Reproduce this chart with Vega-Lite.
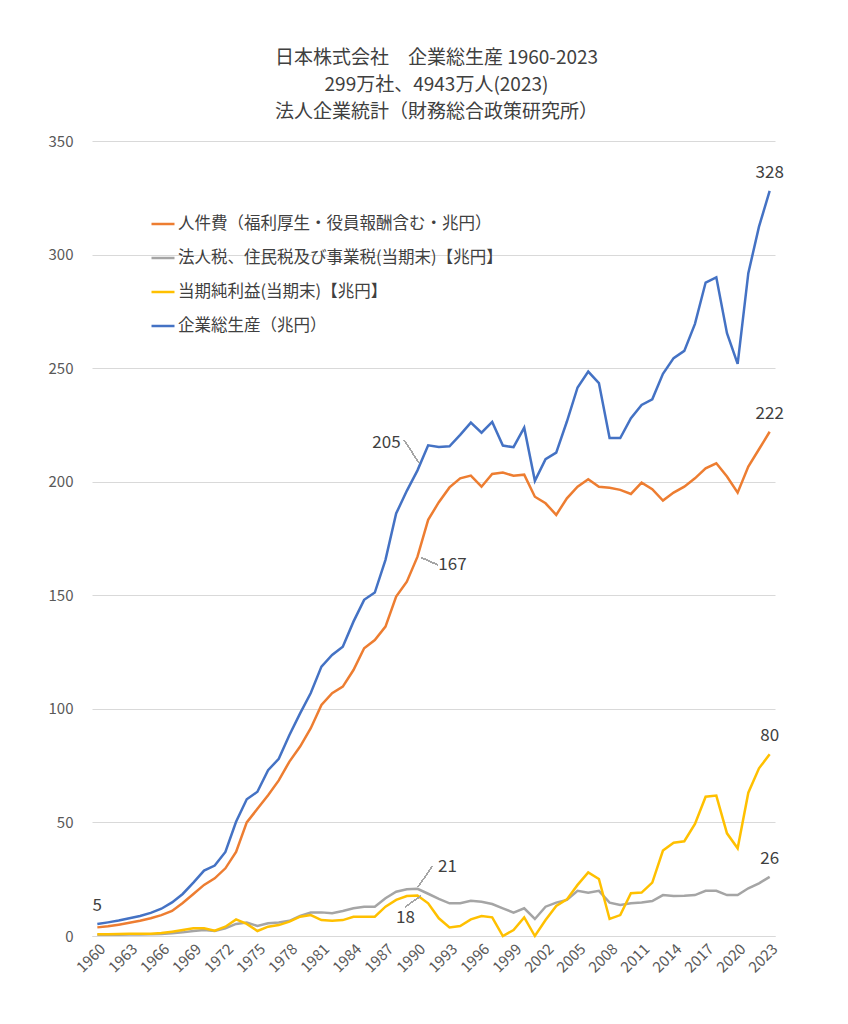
{
  "$schema": "https://vega.github.io/schema/vega-lite/v6.json",
  "autosize": {"type": "none"},
  "width": 683,
  "height": 795,
  "padding": {"left": 92, "top": 141, "right": 73, "bottom": 88},
  "background": "white",
  "title": {
    "text": ["日本株式会社　企業総生産 1960-2023", "299万社、4943万人(2023)", "法人企業統計（財務総合政策研究所）"],
    "font": "Noto Sans CJK JP",
    "fontSize": 19,
    "fontWeight": "normal",
    "color": "#404040",
    "anchor": "middle",
    "lineHeight": 27,
    "offset": 12,
    "dx": 3
  },
  "config": {
    "font": "Noto Sans CJK JP",
    "view": {"stroke": null}
  },
  "data": {
    "values": [
      {"year": 1960, "labor": 3.8, "tax": 0.5, "profit": 0.8, "output": 5.3},
      {"year": 1961, "labor": 4.3, "tax": 0.6, "profit": 0.8, "output": 6.0},
      {"year": 1962, "labor": 5.0, "tax": 0.6, "profit": 0.9, "output": 6.8},
      {"year": 1963, "labor": 5.8, "tax": 0.7, "profit": 1.0, "output": 7.8},
      {"year": 1964, "labor": 6.7, "tax": 0.7, "profit": 1.0, "output": 8.8},
      {"year": 1965, "labor": 7.8, "tax": 0.8, "profit": 1.0, "output": 10.2},
      {"year": 1966, "labor": 9.2, "tax": 0.9, "profit": 1.3, "output": 12.0},
      {"year": 1967, "labor": 11.0, "tax": 1.2, "profit": 1.9, "output": 14.8},
      {"year": 1968, "labor": 14.5, "tax": 1.6, "profit": 2.6, "output": 18.5},
      {"year": 1969, "labor": 18.5, "tax": 2.2, "profit": 3.4, "output": 23.5},
      {"year": 1970, "labor": 22.5, "tax": 2.6, "profit": 3.4, "output": 28.8},
      {"year": 1971, "labor": 25.4, "tax": 2.2, "profit": 2.3, "output": 31.0},
      {"year": 1972, "labor": 29.8, "tax": 3.4, "profit": 4.1, "output": 37.0},
      {"year": 1973, "labor": 37.0, "tax": 5.3, "profit": 7.3, "output": 50.3},
      {"year": 1974, "labor": 50.0, "tax": 5.9, "profit": 5.3, "output": 60.2},
      {"year": 1975, "labor": 56.0, "tax": 4.4, "profit": 2.2, "output": 63.5},
      {"year": 1976, "labor": 62.0, "tax": 5.6, "profit": 4.1, "output": 73.0},
      {"year": 1977, "labor": 68.5, "tax": 5.9, "profit": 4.8, "output": 78.0},
      {"year": 1978, "labor": 76.8, "tax": 6.7, "profit": 6.3, "output": 88.5},
      {"year": 1979, "labor": 83.4, "tax": 8.8, "profit": 8.5, "output": 98.0},
      {"year": 1980, "labor": 91.5, "tax": 10.3, "profit": 9.2, "output": 107.0},
      {"year": 1981, "labor": 101.7, "tax": 10.4, "profit": 7.0, "output": 118.6},
      {"year": 1982, "labor": 106.9, "tax": 10.0, "profit": 6.7, "output": 123.7},
      {"year": 1983, "labor": 109.8, "tax": 11.0, "profit": 7.0, "output": 127.4},
      {"year": 1984, "labor": 117.1, "tax": 12.2, "profit": 8.5, "output": 138.4},
      {"year": 1985, "labor": 126.7, "tax": 12.9, "profit": 8.5, "output": 148.0},
      {"year": 1986, "labor": 130.3, "tax": 12.9, "profit": 8.5, "output": 151.2},
      {"year": 1987, "labor": 136.2, "tax": 16.6, "profit": 12.9, "output": 165.6},
      {"year": 1988, "labor": 149.4, "tax": 19.5, "profit": 15.9, "output": 186.0},
      {"year": 1989, "labor": 156.0, "tax": 20.6, "profit": 17.6, "output": 196.0},
      {"year": 1990, "labor": 167.0, "tax": 20.8, "profit": 17.8, "output": 205.0},
      {"year": 1991, "labor": 183.2, "tax": 18.6, "profit": 14.4, "output": 216.0},
      {"year": 1992, "labor": 191.0, "tax": 16.3, "profit": 7.8, "output": 215.3},
      {"year": 1993, "labor": 197.5, "tax": 14.4, "profit": 3.8, "output": 215.6},
      {"year": 1994, "labor": 201.5, "tax": 14.4, "profit": 4.4, "output": 220.6},
      {"year": 1995, "labor": 202.7, "tax": 15.5, "profit": 7.3, "output": 226.0},
      {"year": 1996, "labor": 197.8, "tax": 15.1, "profit": 8.8, "output": 221.6},
      {"year": 1997, "labor": 203.4, "tax": 14.1, "profit": 8.2, "output": 226.3},
      {"year": 1998, "labor": 204.0, "tax": 12.2, "profit": 0.0, "output": 215.9},
      {"year": 1999, "labor": 202.6, "tax": 10.3, "profit": 2.6, "output": 215.2},
      {"year": 2000, "labor": 203.1, "tax": 12.2, "profit": 8.2, "output": 223.8},
      {"year": 2001, "labor": 193.4, "tax": 7.5, "profit": 0.0, "output": 200.4},
      {"year": 2002, "labor": 190.5, "tax": 12.9, "profit": 7.0, "output": 209.9},
      {"year": 2003, "labor": 185.4, "tax": 14.7, "profit": 13.2, "output": 212.8},
      {"year": 2004, "labor": 192.7, "tax": 15.9, "profit": 16.1, "output": 226.5},
      {"year": 2005, "labor": 197.8, "tax": 19.9, "profit": 22.5, "output": 241.5},
      {"year": 2006, "labor": 201.1, "tax": 19.1, "profit": 28.0, "output": 248.5},
      {"year": 2007, "labor": 197.8, "tax": 19.9, "profit": 25.1, "output": 243.4},
      {"year": 2008, "labor": 197.3, "tax": 14.7, "profit": 7.5, "output": 219.2},
      {"year": 2009, "labor": 196.4, "tax": 13.7, "profit": 9.2, "output": 219.2},
      {"year": 2010, "labor": 194.6, "tax": 14.4, "profit": 18.8, "output": 228.0},
      {"year": 2011, "labor": 199.6, "tax": 14.8, "profit": 19.1, "output": 233.8},
      {"year": 2012, "labor": 196.7, "tax": 15.4, "profit": 23.5, "output": 236.3},
      {"year": 2013, "labor": 191.7, "tax": 18.0, "profit": 37.6, "output": 247.5},
      {"year": 2014, "labor": 195.2, "tax": 17.6, "profit": 41.1, "output": 254.4},
      {"year": 2015, "labor": 197.8, "tax": 17.7, "profit": 41.7, "output": 257.6},
      {"year": 2016, "labor": 201.5, "tax": 18.0, "profit": 49.3, "output": 269.5},
      {"year": 2017, "labor": 205.9, "tax": 19.9, "profit": 61.3, "output": 287.7},
      {"year": 2018, "labor": 208.1, "tax": 19.9, "profit": 61.8, "output": 290.0},
      {"year": 2019, "labor": 202.3, "tax": 18.0, "profit": 45.2, "output": 265.4},
      {"year": 2020, "labor": 195.2, "tax": 18.0, "profit": 38.6, "output": 251.9},
      {"year": 2021, "labor": 206.7, "tax": 21.0, "profit": 63.1, "output": 291.8},
      {"year": 2022, "labor": 214.3, "tax": 23.2, "profit": 73.8, "output": 312.3},
      {"year": 2023, "labor": 222.0, "tax": 26.0, "profit": 80.0, "output": 328.0}
    ]
  },
  "transform": [
    {"fold": ["labor", "tax", "profit", "output"], "as": ["series", "value"]}
  ],
  "encoding": {
    "x": {
      "field": "year",
      "type": "quantitative",
      "scale": {"domain": [1959.5, 2023.5], "nice": false, "zero": false},
      "axis": {
        "title": null,
        "values": [1960, 1963, 1966, 1969, 1972, 1975, 1978, 1981, 1984, 1987, 1990, 1993, 1996, 1999, 2002, 2005, 2008, 2011, 2014, 2017, 2020, 2023],
        "format": "d",
        "labelAngle": -45,
        "labelFontSize": 15,
        "labelColor": "#595959",
        "labelPadding": 5,
        "ticks": false,
        "tickSize": 0,
        "grid": false,
        "domain": true,
        "domainColor": "#d9d9d9",
        "domainWidth": 1,
        "labelFlush": false,
        "labelOverlap": false
      }
    },
    "y": {
      "field": "value",
      "type": "quantitative",
      "scale": {"domain": [0, 350], "nice": false},
      "axis": {
        "title": null,
        "values": [0, 50, 100, 150, 200, 250, 300, 350],
        "labelFontSize": 15,
        "labelColor": "#595959",
        "labelPadding": 19,
        "ticks": false,
        "tickSize": 0,
        "domain": false,
        "grid": true,
        "gridColor": "#d9d9d9",
        "gridWidth": 1
      }
    }
  },
  "layer": [
    {
      "mark": {"type": "line", "strokeWidth": 2.5},
      "encoding": {
        "color": {
          "field": "series",
          "type": "nominal",
          "scale": {
            "domain": ["labor", "tax", "profit", "output"],
            "range": ["#ED7D31", "#A5A5A5", "#FFC000", "#4472C4"]
          },
          "legend": {
            "title": null,
            "orient": "none",
            "legendX": 58,
            "legendY": 70,
            "padding": 0,
            "symbolType": "stroke",
            "symbolSize": 529,
            "symbolStrokeWidth": 2.5,
            "labelFontSize": 16.5,
            "labelColor": "#404040",
            "labelOffset": 2,
            "rowPadding": 12,
            "labelLimit": 600,
            "labelExpr": "datum.value == 'labor' ? '人件費（福利厚生・役員報酬含む・兆円）' : datum.value == 'tax' ? '法人税、住民税及び事業税(当期末)【兆円】' : datum.value == 'profit' ? '当期純利益(当期末)【兆円】' : '企業総生産（兆円）'"
          }
        }
      }
    },
    {
      "transform": [{"filter": "datum.year == 2023"}],
      "mark": {"type": "text", "dy": -18, "fontSize": 17, "color": "#404040"},
      "encoding": {"text": {"field": "value", "type": "quantitative", "format": ".0f"}}
    },
    {
      "transform": [{"filter": "datum.year == 1960 && datum.series == 'output'"}],
      "mark": {"type": "text", "dy": -18, "fontSize": 17, "color": "#404040"},
      "encoding": {"text": {"field": "value", "type": "quantitative", "format": ".0f"}}
    },
    {
      "transform": [{"filter": "datum.year == 1990 && datum.series == 'output'"}],
      "mark": {"type": "text", "dx": -31, "dy": -27, "fontSize": 17, "color": "#404040"},
      "encoding": {"text": {"field": "value", "type": "quantitative", "format": ".0f"}}
    },
    {
      "transform": [{"filter": "datum.year == 1990 && datum.series == 'labor'"}],
      "mark": {"type": "text", "dx": 35, "dy": 8, "fontSize": 17, "color": "#404040"},
      "encoding": {"text": {"field": "value", "type": "quantitative", "format": ".0f"}}
    },
    {
      "transform": [{"filter": "datum.year == 1990 && datum.series == 'tax'"}],
      "mark": {"type": "text", "dx": 30, "dy": -22, "fontSize": 17, "color": "#404040"},
      "encoding": {"text": {"field": "value", "type": "quantitative", "format": ".0f"}}
    },
    {
      "transform": [{"filter": "datum.year == 1990 && datum.series == 'profit'"}],
      "mark": {"type": "text", "dx": -12, "dy": 22, "fontSize": 17, "color": "#404040"},
      "encoding": {"text": {"field": "value", "type": "quantitative", "format": ".0f"}}
    },
    {
      "mark": {"type": "rule", "color": "#a6a6a6", "strokeWidth": 1},
      "encoding": {
        "x": {"datum": 1988.8},
        "y": {"datum": 218.0},
        "x2": {"datum": 1990.1},
        "y2": {"datum": 208.5}
      }
    },
    {
      "mark": {"type": "rule", "color": "#a6a6a6", "strokeWidth": 1},
      "encoding": {
        "x": {"datum": 1991.9},
        "y": {"datum": 163.4},
        "x2": {"datum": 1990.4},
        "y2": {"datum": 166.5}
      }
    },
    {
      "mark": {"type": "rule", "color": "#a6a6a6", "strokeWidth": 1},
      "encoding": {
        "x": {"datum": 1991.4},
        "y": {"datum": 30.8},
        "x2": {"datum": 1990.05},
        "y2": {"datum": 21.6}
      }
    },
    {
      "mark": {"type": "rule", "color": "#a6a6a6", "strokeWidth": 1},
      "encoding": {
        "x": {"datum": 1988.9},
        "y": {"datum": 13.0},
        "x2": {"datum": 1990.3},
        "y2": {"datum": 17.6}
      }
    }
  ]
}
